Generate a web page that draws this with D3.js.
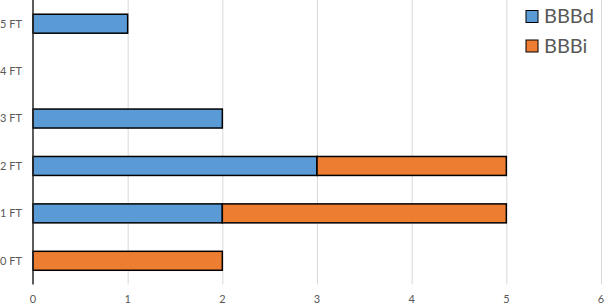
<!DOCTYPE html>
<html>
<head>
<meta charset="utf-8">
<script src="https://cdn.jsdelivr.net/npm/d3@7"></script>
<style>
  body { margin: 0; background: #fff; }
  svg { display: block; font-family: Lato, "Open Sans", sans-serif; }
</style>
</head>
<body>
<div id="chart"></div>
<script>
var categories = ['0 FT', '1 FT', '2 FT', '3 FT', '4 FT', '5 FT']
var seriesNames = ['BBBd', 'BBBi']
var bbbd = [0, 2, 3, 2, 0, 1]
var bbbi = [2, 3, 2, 0, 0, 0]
var xTicks = [0, 1, 2, 3, 4, 5, 6]
var colors = ['#5b9bd5', '#ed7d31']

var width = 605
var height = 305
var margin = { top: 0, right: 4, bottom: 20.5, left: 33 }

var svg = d3.select('#chart').append('svg')
    .attr('width', width)
    .attr('height', height)

var x = d3.scaleLinear()
    .domain([0, 6])
    .range([margin.left, width - margin.right])

var y = d3.scaleBand()
    .domain(categories.slice().reverse())
    .range([margin.top, height - margin.bottom])
    .paddingInner(0.6)
    .paddingOuter(0.3)

// gridlines
svg.append('g')
    .selectAll('line')
    .data(xTicks.slice(1))
    .join('line')
    .attr('x1', d => x(d) + 0.5)
    .attr('x2', d => x(d) + 0.5)
    .attr('y1', margin.top)
    .attr('y2', height - margin.bottom)
    .attr('stroke', '#d9d9d9')
    .attr('stroke-width', 1)

// stacked data
var rows = categories.map((c, i) => ({ cat: c, BBBd: bbbd[i], BBBi: bbbi[i] }))
var stack = d3.stack().keys(seriesNames)(rows)

svg.append('g')
    .selectAll('g')
    .data(stack)
    .join('g')
    .attr('fill', (d, i) => colors[i])
    .selectAll('rect')
    .data(d => d.filter(p => p[1] - p[0] > 0))
    .join('rect')
    .attr('x', d => x(d[0]))
    .attr('y', d => y(d.data.cat))
    .attr('width', d => x(d[1]) - x(d[0]))
    .attr('height', y.bandwidth())
    .attr('stroke', '#000')
    .attr('stroke-width', 1.5)

// axis line
svg.append('line')
    .attr('x1', x(0))
    .attr('x2', x(0))
    .attr('y1', margin.top)
    .attr('y2', height - margin.bottom)
    .attr('stroke', '#262626')
    .attr('stroke-width', 1.5)

// y labels
svg.append('g')
    .selectAll('text')
    .data(categories)
    .join('text')
    .attr('x', 22)
    .attr('y', d => y(d) + y.bandwidth() / 2)
    .attr('dy', '0.35em')
    .attr('text-anchor', 'end')
    .attr('font-size', '11px')
    .attr('fill', '#595959')
    .text(d => d)

// x labels
svg.append('g')
    .selectAll('text')
    .data(xTicks)
    .join('text')
    .attr('x', d => x(d))
    .attr('y', 303)
    .attr('text-anchor', 'middle')
    .attr('font-size', '11px')
    .attr('fill', '#595959')
    .text(d => d)

// legend
var legend = svg.append('g')
seriesNames.forEach((name, i) => {
    legend.append('rect')
        .attr('x', 526)
        .attr('y', 10.5 + i * 29.5)
        .attr('width', 12)
        .attr('height', 12)
        .attr('fill', colors[i])
        .attr('stroke', '#000')
        .attr('stroke-width', 1)
    legend.append('text')
        .attr('x', 544)
        .attr('y', 23 + i * 29.5)
        .attr('font-size', '20px')
        .attr('fill', '#595959')
        .text(name)
})
</script>
</body>
</html>
